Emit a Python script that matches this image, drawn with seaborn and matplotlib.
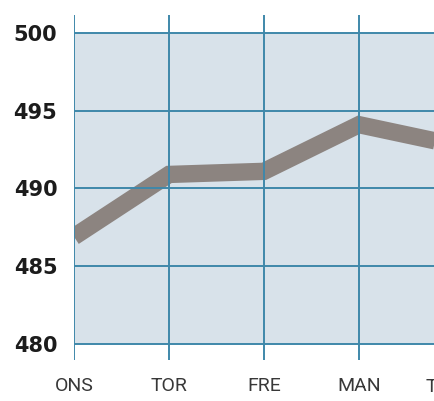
import seaborn as sns
import pandas as pd
import matplotlib.pyplot as plt
import matplotlib.transforms as mtransforms

# ugedage og værdier
days = ["ONS", "TOR", "FRE", "MAN", "TIR"]
values = [486.9, 490.9, 491.1, 494.1, 492.8]
y_ticks = [480, 485, 490, 495, 500]

bg_color = "#d8e2ea"
grid_color = "#3f88aa"
line_color = "#8c8480"

sns.set_style("white")
plt.rcParams["font.family"] = ["Roboto", "DejaVu Sans"]

df = pd.DataFrame({"day": days, "value": values})

fig = plt.figure(figsize=(4.34, 4.01), dpi=100)
ax = fig.add_axes([0.1705, 0.1022, 0.8295, 0.8604])
ax.set_facecolor("white")

# blaa-graa baggrund kun mellem 480 og 500
ax.axhspan(y_ticks[0], y_ticks[-1], color=bg_color, zorder=0, lw=0)

sns.lineplot(data=df, x="day", y="value", ax=ax, color=line_color,
             linewidth=12.5, solid_joinstyle="miter", solid_capstyle="butt",
             zorder=2)

ax.set_yticks(y_ticks)
ax.set_xticks(range(len(days)))
ax.set_xticklabels(days)
# limits efter ticks, ellers udvides x-aksen
ax.set_xlim(0, 3.79)
ax.set_ylim(478.97, 501.15)

# gitter over linjen
ax.set_axisbelow(False)
ax.grid(True, color=grid_color, linewidth=1.4, zorder=3)

for s in ax.spines.values():
    s.set_visible(False)

ax.tick_params(axis="y", length=6.5, width=1.4, color=grid_color, pad=5.5)
ax.tick_params(axis="x", length=0, pad=12)
for lbl in ax.get_yticklabels():
    lbl.set_fontfamily("DejaVu Sans")
    lbl.set_fontweight("bold")
    lbl.set_fontsize(15)
    lbl.set_color("#1c1c1c")
for lbl in ax.get_xticklabels():
    lbl.set_fontsize(14)
    lbl.set_color("#383838")

# sidste dag ligger uden for aksen, kun starten af teksten ses i kanten
trans = mtransforms.blended_transform_factory(ax.transData, ax.transAxes)
ax.text(len(days) - 1, -0.052, days[-1], transform=trans, ha="right",
        va="top", fontsize=14, color="#383838")

ax.set_xlabel("")
ax.set_ylabel("")

fig.savefig("out.png", dpi=100, facecolor="white")
